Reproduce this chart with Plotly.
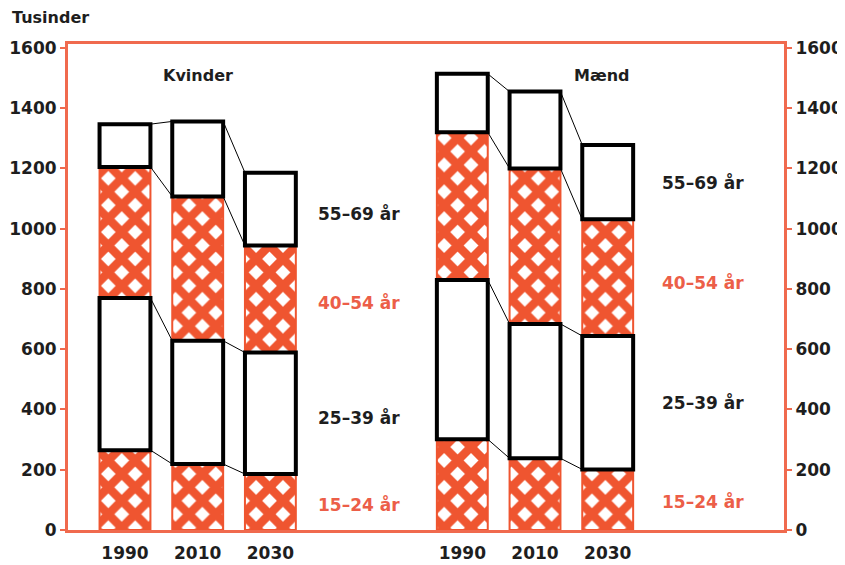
import plotly.graph_objects as go
import numpy as np

# ---- data (thousands) ----
groups = ["Kvinder", "Mænd"]
years = ["1990", "2010", "2030"]
age_labels = ["15–24 år", "25–39 år", "40–54 år", "55–69 år"]
kvinder_15_24 = [265, 219, 186]
kvinder_25_39 = [505, 409, 403]
kvinder_40_54 = [435, 479, 355]
kvinder_55_69 = [142, 249, 242]
maend_15_24 = [301, 238, 201]
maend_25_39 = [529, 446, 443]
maend_40_54 = [490, 516, 387]
maend_55_69 = [194, 255, 247]
y_ticks = [0, 200, 400, 600, 800, 1000, 1200, 1400, 1600]

# ---- layout constants ----
ORANGE = "#EF5530"
FRAME = "#F06A4E"
TXT = "#1e1e1e"
LABEL_ORANGE = "#EC5E48"
group_start = [0.0, 4.64]
bar_w = 0.70

series = [
    kvinder_15_24 + maend_15_24,
    kvinder_25_39 + maend_25_39,
    kvinder_40_54 + maend_40_54,
    kvinder_55_69 + maend_55_69,
]
xpos = [g + i for g in group_start for i in range(len(years))]
ticktext = years * len(groups)

vals = np.array(series, dtype=float)
cum = np.cumsum(vals, axis=0)
bases = np.vstack([np.zeros(vals.shape[1]), cum[:-1]])

fig = go.Figure()

# orange hatched segments first, white boxed segments on top
for k in [0, 2, 1, 3]:
    hatched = k in (0, 2)
    if hatched:
        marker = dict(color=ORANGE,
                      line=dict(color=ORANGE, width=2),
                      pattern=dict(shape="x", fgcolor=ORANGE, bgcolor="white",
                                   size=19, solidity=0.7, fillmode="replace",
                                   fgopacity=1))
    else:
        marker = dict(color="white", line=dict(color="black", width=4))
    fig.add_trace(go.Bar(x=xpos, y=vals[k], base=bases[k], width=bar_w,
                         marker=marker, name=age_labels[k], showlegend=False,
                         hoverinfo="skip"))

# connector lines between adjacent bars
lx, ly = [], []
for gi, g in enumerate(group_start):
    for i in range(len(years) - 1):
        a = gi * len(years) + i
        b = a + 1
        for lvl in range(cum.shape[0]):
            lx += [xpos[a] + bar_w / 2, xpos[b] - bar_w / 2, None]
            ly += [cum[lvl, a], cum[lvl, b], None]
fig.add_trace(go.Scatter(x=lx, y=ly, mode="lines", line=dict(color="black", width=1),
                         showlegend=False, hoverinfo="skip"))

# invisible trace on right axis
fig.add_trace(go.Scatter(x=[xpos[0]], y=[0], yaxis="y2", mode="markers",
                         marker=dict(opacity=0), showlegend=False, hoverinfo="skip"))

yr = [0, 1613]
font = dict(family="DejaVu Sans", size=17, color=TXT, weight="bold")
fig.update_layout(
    width=837, height=557,
    margin=dict(l=60, r=61, t=36, b=35),
    paper_bgcolor="white", plot_bgcolor="white",
    barmode="overlay",
    font=font,
    xaxis=dict(range=[-0.784, 9.065], tickvals=xpos, ticktext=ticktext,
               showgrid=False, zeroline=False, showline=True, linecolor=FRAME,
               linewidth=3, mirror=True, ticks="outside", ticklen=6,
               tickcolor="rgba(0,0,0,0)", tickfont=font, automargin=False),
    yaxis=dict(range=yr, tickvals=y_ticks, showgrid=False, zeroline=False,
               showline=True, linecolor=FRAME, linewidth=3, ticks="outside",
               ticklen=5, tickcolor=FRAME, tickwidth=2, tickfont=font,
               automargin=False),
    yaxis2=dict(range=yr, tickvals=y_ticks, overlaying="y", side="right",
                showgrid=False, zeroline=False, showline=True, linecolor=FRAME,
                linewidth=3, ticks="outside", ticklen=5, tickcolor=FRAME,
                tickwidth=2, tickfont=font, automargin=False),
)

tfont = dict(family="DejaVu Sans", size=16, color=TXT, weight="bold")
ann = []
ann.append(dict(text="Tusinder", xref="paper", yref="paper", x=-0.081, y=1.0535,
                xanchor="left", yanchor="middle", showarrow=False, font=tfont))
ann.append(dict(text=groups[0], x=1.0, y=1507, showarrow=False, font=tfont))
ann.append(dict(text=groups[1], x=6.56, y=1507, showarrow=False, font=tfont))
k_lab_y = [83, 372, 754, 1052]
m_lab_y = [96, 422, 823, 1152]
for k in range(4):
    col = LABEL_ORANGE if k in (0, 2) else TXT
    lf = dict(family="DejaVu Sans", size=17, color=col, weight="bold")
    ann.append(dict(text=age_labels[k], x=3.22, y=k_lab_y[k], showarrow=False, font=lf))
    ann.append(dict(text=age_labels[k], x=7.95, y=m_lab_y[k], showarrow=False, font=lf))
fig.update_layout(annotations=ann)

fig.write_html("out.html")
